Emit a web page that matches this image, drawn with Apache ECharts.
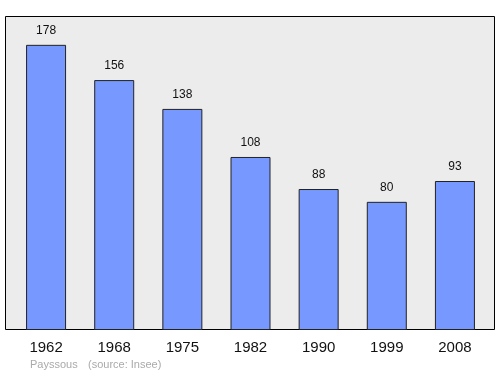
<!DOCTYPE html>
<html><head><meta charset="utf-8">
<script src="https://cdn.jsdelivr.net/npm/echarts@6/dist/echarts.min.js"></script>
<style>html,body{margin:0;padding:0;background:#fff}#c{width:500px;height:374px}</style>
</head><body><div id="c"></div>
<script>
var years = ['1962','1968','1975','1982','1990','1999','2008'];
var population = [178,156,138,108,88,80,93];
var footerPlace = 'Payssous';
var footerSource = '(source: Insee)';

var chart = echarts.init(document.getElementById('c'), null, {renderer:'canvas'});
chart.setOption({
  animation:false,
  backgroundColor:'#ffffff',
  graphic:[
    {type:'rect', z:0, shape:{x:5.5,y:16.5,width:489,height:313}, style:{fill:'#ececec', stroke:'#000', lineWidth:1}},
    {type:'text', left:30, top:359, style:{text:footerPlace, fill:'#aaaaaa', font:'11px "Liberation Sans", Arial, sans-serif'}},
    {type:'text', left:88, top:359, style:{text:footerSource, fill:'#aaaaaa', font:'11px "Liberation Sans", Arial, sans-serif'}}
  ],
  grid:{left:12, right:11, top:16, bottom:44},
  xAxis:{type:'category', data:years, axisLine:{show:false}, axisTick:{show:false},
    axisLabel:{color:'#111', fontSize:15, fontFamily:'Liberation Sans', margin:10}},
  yAxis:{type:'value', min:0, max:196, show:false, splitLine:{show:false}},
  series:[{type:'bar', data:population, barWidth:40, z:5,
    itemStyle:{color:'#7799ff', borderColor:'#222', borderWidth:1},
    label:{show:true, position:'top', distance:8, color:'#111', fontSize:12, fontFamily:'Liberation Sans'}
  }]
});
</script></body></html>
